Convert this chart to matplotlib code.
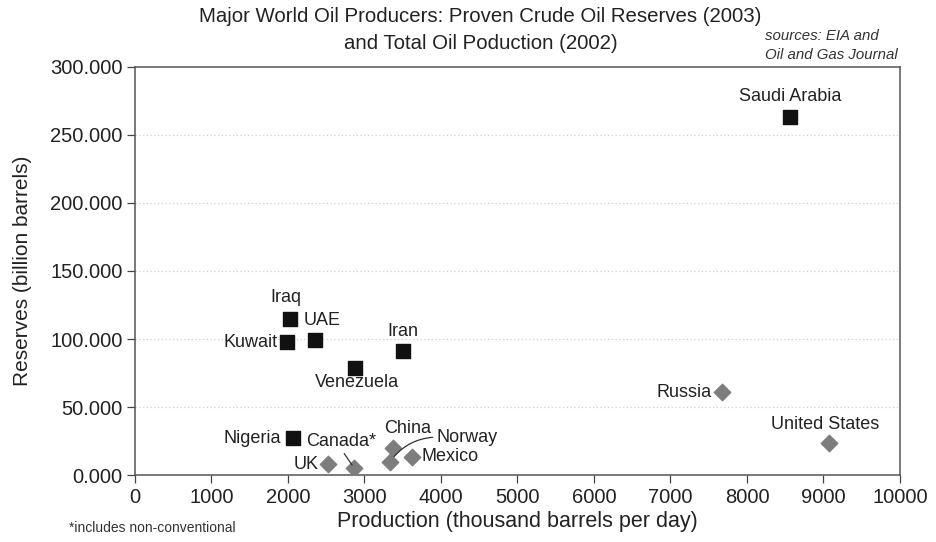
import matplotlib
matplotlib.use("Agg")
import matplotlib.pyplot as plt

plt.rcParams['font.family'] = ['Liberation Sans', 'DejaVu Sans']

# OPEC producers (black squares)
opec_names = ["Saudi Arabia", "Iraq", "UAE", "Kuwait", "Iran", "Venezuela", "Nigeria"]
opec_prod = [8560, 2030, 2350, 1990, 3500, 2880, 2060]
opec_res = [263, 115, 99.5, 97.5, 91, 79, 27]

# Non-OPEC producers (grey diamonds)
other_names = ["Russia", "United States", "UK", "Canada*", "China", "Norway", "Mexico"]
other_prod = [7680, 9070, 2530, 2860, 3370, 3330, 3620]
other_res = [61, 23.5, 8, 5.5, 20, 9.5, 13.5]

xticks = [0, 1000, 2000, 3000, 4000, 5000, 6000, 7000, 8000, 9000, 10000]
yticks = [0, 50, 100, 150, 200, 250, 300]

fig = plt.figure(figsize=(9.37, 5.42), dpi=100)
ax = fig.add_axes([0.144, 0.1236, 0.8165, 0.7528])

for y in yticks[1:-1]:
    ax.axhline(y, color="#d0d0d0", lw=0.9, ls=(0, (1, 2)), zorder=0)

ax.scatter(opec_prod, opec_res, marker="s", s=95, color="#111111", zorder=3)
ax.scatter(other_prod, other_res, marker="D", s=70, color="#7d7d7d", zorder=3)

fs = 13
# offsets in points (dx, dy), ha, va
label_pos = {
    "Saudi Arabia": ((0, 15), "center", "center"),
    "Iraq": ((-3, 15), "center", "center"),
    "UAE": ((-8, 14), "left", "center"),
    "Kuwait": ((-7, 0), "right", "center"),
    "Iran": ((0, 14), "center", "center"),
    "Venezuela": ((1, -11), "center", "center"),
    "Nigeria": ((-8, 0), "right", "center"),
    "Russia": ((-8, 0), "right", "center"),
    "United States": ((-3, 13), "center", "center"),
    "UK": ((-7, 0), "right", "center"),
    "Mexico": ((7, 0), "left", "center"),
    "China": ((11, 14), "center", "center"),
}
for names, xs, ys in ((opec_names, opec_prod, opec_res), (other_names, other_prod, other_res)):
    for n, x, y in zip(names, xs, ys):
        if n in label_pos:
            (dx, dy), ha, va = label_pos[n]
            ax.annotate(n, (x, y), xytext=(dx, dy), textcoords="offset points",
                        ha=ha, va=va, fontsize=fs, color="#222222")

# Canada with leader line
ci = other_names.index("Canada*")
ax.annotate("Canada*", (other_prod[ci], other_res[ci]), xytext=(-34, 19), textcoords="offset points",
            ha="left", va="center", fontsize=fs, color="#222222",
            arrowprops=dict(arrowstyle="-", color="#333333", lw=0.9, shrinkA=1, shrinkB=2,
                            relpos=(0.5, 0.0)))
# Norway with curved leader line
ni = other_names.index("Norway")
ax.annotate("Norway", (other_prod[ni], other_res[ni]), xytext=(34, 18), textcoords="offset points",
            ha="left", va="center", fontsize=fs, color="#222222",
            arrowprops=dict(arrowstyle="-", color="#333333", lw=0.9, shrinkA=1, shrinkB=5,
                            relpos=(0.0, 0.5), connectionstyle="arc3,rad=0.25"))

ax.set_xlim(0, 10000)
ax.set_ylim(0, 300)
ax.set_xticks(xticks)
ax.set_yticks(yticks)
ax.set_xticklabels([str(v) for v in xticks], fontsize=14.5, color="#222222")
ax.set_yticklabels(["%d.000" % v for v in yticks], fontsize=14.5, color="#222222")
ax.tick_params(direction="out", length=6, width=0.9, colors="#444444", labelcolor="#222222")
ax.tick_params(axis="y", pad=3)
for sp in ax.spines.values():
    sp.set_color("#555555")
    sp.set_linewidth(1.1)

ax.set_xlabel("Production (thousand barrels per day)", fontsize=15.5, color="#222222", labelpad=3)
ax.set_ylabel("Reserves (billion barrels)", fontsize=15, color="#222222", labelpad=13)

fig.text(0.513, 0.987, "Major World Oil Producers: Proven Crude Oil Reserves (2003)\nand Total Oil Poduction (2002)",
         ha="center", va="top", fontsize=14.7, color="#222222", linespacing=1.55)
fig.text(0.816, 0.946, "sources: EIA and\nOil and Gas Journal", ha="left", va="top",
         fontsize=10.8, style="italic", color="#333333", linespacing=1.45)
fig.text(0.074, 0.012, "*includes non-conventional", ha="left", va="bottom", fontsize=10, color="#333333")

fig.savefig("out.png", dpi=100, facecolor="white")
